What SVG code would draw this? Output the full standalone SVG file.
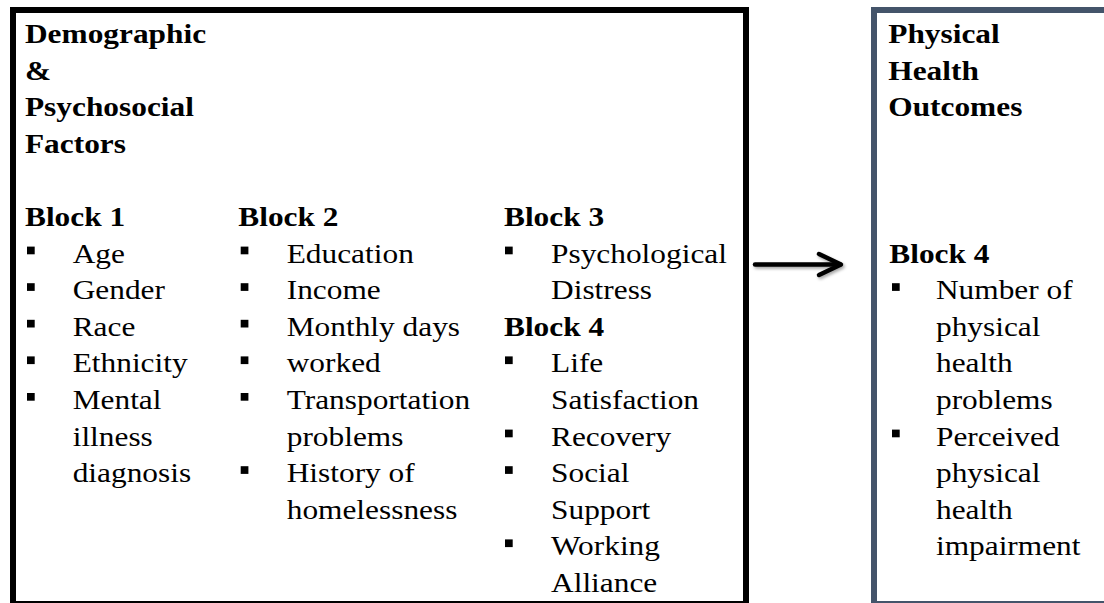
<svg xmlns="http://www.w3.org/2000/svg" width="1104" height="603" viewBox="0 0 1104 603">
<style>
  text { font-family: "Liberation Serif", "Times New Roman", serif; font-size: 28px; fill: #000; }
  .h { font-weight: bold; }
  .bul { fill: #000; }
  .boxL { fill: #fff; stroke: #000; stroke-width: 6; }
  .boxR { fill: #fff; stroke: #44546A; stroke-width: 6; }
  .arrow { fill: none; stroke: #000; stroke-width: 4.5; stroke-linecap: round; stroke-linejoin: round; }
</style>
<defs>
  <filter id="sh" x="-20%" y="-50%" width="140%" height="200%">
    <feDropShadow dx="1.5" dy="2" stdDeviation="1.5" flood-color="#000" flood-opacity="0.35"/>
  </filter>
</defs>
<rect x="0" y="0" width="1104" height="603" fill="#fff"/>

<g id="node-factors">
  <rect class="boxL" x="13" y="10" width="733" height="594"/>
  <g transform="scale(1.12 1)">
    <text class="h" x="22.3" y="43">Demographic</text>
    <text class="h" x="22.3" y="79.6">&amp;</text>
    <text class="h" x="22.3" y="116.2">Psychosocial</text>
    <text class="h" x="22.3" y="152.8">Factors</text>

    <text class="h" x="22.3" y="226">Block 1</text>
    <text x="64.9" y="262.6">Age</text>
    <text x="64.9" y="299.2">Gender</text>
    <text x="64.9" y="335.8">Race</text>
    <text x="64.9" y="372.4">Ethnicity</text>
    <text x="64.9" y="409">Mental</text>
    <text x="64.9" y="445.6">illness</text>
    <text x="64.9" y="482.2">diagnosis</text>

    <text class="h" x="212.8" y="226">Block 2</text>
    <text x="256" y="262.6">Education</text>
    <text x="256" y="299.2">Income</text>
    <text x="256" y="335.8">Monthly days</text>
    <text x="256" y="372.4">worked</text>
    <text x="256" y="409">Transportation</text>
    <text x="256" y="445.6">problems</text>
    <text x="256" y="482.2">History of</text>
    <text x="256" y="518.8">homelessness</text>

    <text class="h" x="450" y="226">Block 3</text>
    <text x="492" y="262.6">Psychological</text>
    <text x="492" y="299.2">Distress</text>
    <text class="h" x="450" y="335.8">Block 4</text>
    <text x="492" y="372.4">Life</text>
    <text x="492" y="409">Satisfaction</text>
    <text x="492" y="445.6">Recovery</text>
    <text x="492" y="482.2">Social</text>
    <text x="492" y="518.8">Support</text>
    <text x="492" y="555.4">Working</text>
    <text x="492" y="592">Alliance</text>
  </g>
  <g class="bul">
    <rect x="27" y="246.6" width="7.7" height="7.7"/>
    <rect x="27" y="283.2" width="7.7" height="7.7"/>
    <rect x="27" y="319.8" width="7.7" height="7.7"/>
    <rect x="27" y="356.4" width="7.7" height="7.7"/>
    <rect x="27" y="393" width="7.7" height="7.7"/>

    <rect x="240.7" y="246.6" width="7.7" height="7.7"/>
    <rect x="240.7" y="283.2" width="7.7" height="7.7"/>
    <rect x="240.7" y="319.8" width="7.7" height="7.7"/>
    <rect x="240.7" y="356.4" width="7.7" height="7.7"/>
    <rect x="240.7" y="393" width="7.7" height="7.7"/>
    <rect x="240.7" y="466.2" width="7.7" height="7.7"/>

    <rect x="505" y="246.6" width="7.7" height="7.7"/>
    <rect x="505" y="356.4" width="7.7" height="7.7"/>
    <rect x="505" y="429.6" width="7.7" height="7.7"/>
    <rect x="505" y="466.2" width="7.7" height="7.7"/>
    <rect x="505" y="539.4" width="7.7" height="7.7"/>
  </g>
</g>

<g id="node-outcomes">
  <rect class="boxR" x="874" y="10" width="240" height="594"/>
  <g transform="scale(1.12 1)">
    <text class="h" x="793.1" y="43">Physical</text>
    <text class="h" x="793.1" y="79.6">Health</text>
    <text class="h" x="793.1" y="116.2">Outcomes</text>

    <text class="h" x="794" y="262.6">Block 4</text>
    <text x="835.7" y="299.2">Number of</text>
    <text x="835.7" y="335.8">physical</text>
    <text x="835.7" y="372.4">health</text>
    <text x="835.7" y="409">problems</text>
    <text x="835.7" y="445.6">Perceived</text>
    <text x="835.7" y="482.2">physical</text>
    <text x="835.7" y="518.8">health</text>
    <text x="835.7" y="555.4">impairment</text>
  </g>
  <g class="bul">
    <rect x="892" y="283.2" width="7.7" height="7.7"/>
    <rect x="892" y="429.6" width="7.7" height="7.7"/>
  </g>
</g>

<g id="connectors">
  <g filter="url(#sh)">
    <path class="arrow" d="M755 264.5 H840"/>
    <path class="arrow" d="M819 254 L841 264.5 L819 275"/>
  </g>
</g>
</svg>
